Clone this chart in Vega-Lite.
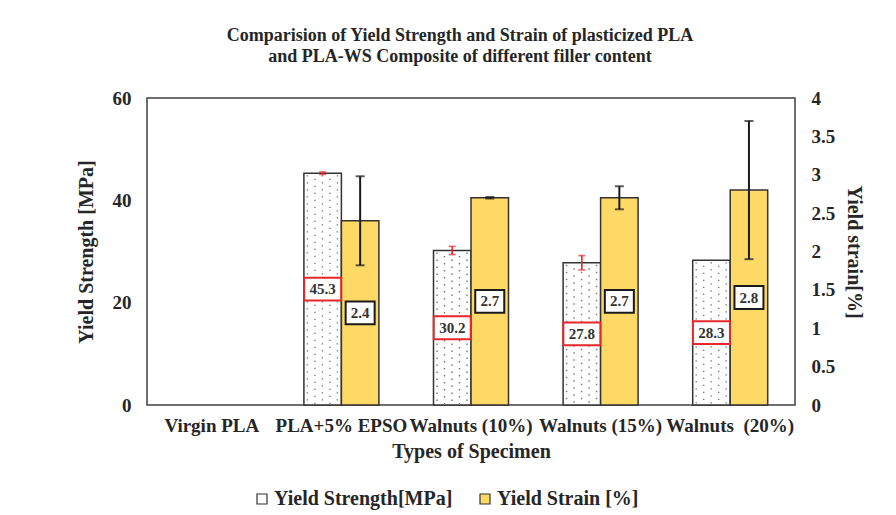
{
  "$schema": "https://vega.github.io/schema/vega-lite/v6.json",
  "autosize": {"type": "none"},
  "width": 648,
  "height": 307,
  "padding": {"left": 147, "top": 98, "right": 101, "bottom": 110},
  "background": "white",
  "title": {
    "text": ["Comparision of Yield Strength and Strain of plasticized PLA", "and PLA-WS Composite of different filler content"],
    "anchor": "middle", "dx": -11, "offset": 23, "fontSize": 18, "fontWeight": "bold",
    "font": "Liberation Serif", "color": "#262626", "lineHeight": 21
  },
  "data": {"values": [
    {"specimen": "Virgin PLA", "series": "Yield Strength[MPa]", "value": null, "err": null},
    {"specimen": "Virgin PLA", "series": "Yield Strain [%]", "value": null, "err": null},
    {"specimen": "PLA+5% EPSO", "series": "Yield Strength[MPa]", "value": 45.3, "err": 0.25},
    {"specimen": "PLA+5% EPSO", "series": "Yield Strain [%]", "value": 2.4, "err": 0.58},
    {"specimen": "Walnuts (10%)", "series": "Yield Strength[MPa]", "value": 30.2, "err": 0.8},
    {"specimen": "Walnuts (10%)", "series": "Yield Strain [%]", "value": 2.7, "err": 0.01},
    {"specimen": "Walnuts (15%)", "series": "Yield Strength[MPa]", "value": 27.8, "err": 1.4},
    {"specimen": "Walnuts (15%)", "series": "Yield Strain [%]", "value": 2.7, "err": 0.15},
    {"specimen": "Walnuts\u00a0 (20%)", "series": "Yield Strength[MPa]", "value": 28.3, "err": null},
    {"specimen": "Walnuts\u00a0 (20%)", "series": "Yield Strain [%]", "value": 2.8, "err": 0.9}
  ]},
  "encoding": {
    "x": {
      "field": "specimen", "type": "nominal", "sort": null,
      "scale": {"domain": ["Virgin PLA", "PLA+5% EPSO", "Walnuts (10%)", "Walnuts (15%)", "Walnuts\u00a0 (20%)"], "paddingInner": 0, "paddingOuter": 0},
      "axis": {"title": "Types of Specimen", "labelAngle": 0, "ticks": false, "domain": false, "labelOverlap": false, "labelPadding": 11, "titlePadding": 6, "labelFontSize": 19, "titleFontSize": 20, "labelFontWeight": "bold", "titleFontWeight": "bold"}
    }
  },
  "layer": [
    {
      "transform": [{"filter": "datum.series === 'Yield Strength[MPa]'"}],
      "mark": {"type": "bar", "stroke": "#333333", "strokeWidth": 1.5},
      "encoding": {
        "xOffset": {"field": "series", "type": "nominal", "scale": {"domain": ["Yield Strength[MPa]", "Yield Strain [%]"], "paddingInner": 0, "paddingOuter": 0.728}},
        "y": {"field": "value", "type": "quantitative", "scale": {"domain": [0, 60]},
          "axis": {"title": "Yield Strength [MPa]", "values": [0, 20, 40, 60], "ticks": false, "domain": false, "grid": false, "labelPadding": 16, "titlePadding": 16, "labelFontSize": 19, "titleFontSize": 20, "labelFontWeight": "bold", "titleFontWeight": "bold"}},
        "color": {"field": "series", "type": "nominal",
          "scale": {"domain": ["Yield Strength[MPa]", "Yield Strain [%]"], "range": ["white", "#FFD966"]},
          "legend": {"orient": "none", "legendX": 105, "legendY": 391, "direction": "horizontal", "title": null, "symbolType": "square", "symbolSize": 100, "symbolStrokeColor": "#333333", "symbolStrokeWidth": 1.2, "labelFontSize": 20, "labelFontWeight": "bold", "labelFont": "Liberation Serif", "labelColor": "#262626", "labelLimit": 400, "columnPadding": 22, "labelOffset": 2}}
      }
    },
    {
      "transform": [{"filter": "datum.series === 'Yield Strength[MPa]'"}],
      "mark": {"type": "rule", "xOffset": -34, "color": "#777777", "strokeWidth": 1.4, "strokeDash": [1.4, 5.6], "strokeDashOffset": -2},
      "encoding": {"y": {"field": "value", "type": "quantitative", "scale": {"domain": [0, 60]}, "axis": null}, "y2": {"datum": 0}}
    },
    {
      "transform": [{"filter": "datum.series === 'Yield Strength[MPa]'"}],
      "mark": {"type": "rule", "xOffset": -26.5, "color": "#777777", "strokeWidth": 1.4, "strokeDash": [1.4, 5.6], "strokeDashOffset": -5.5},
      "encoding": {"y": {"field": "value", "type": "quantitative", "scale": {"domain": [0, 60]}, "axis": null}, "y2": {"datum": 0}}
    },
    {
      "transform": [{"filter": "datum.series === 'Yield Strength[MPa]'"}],
      "mark": {"type": "rule", "xOffset": -19, "color": "#777777", "strokeWidth": 1.4, "strokeDash": [1.4, 5.6], "strokeDashOffset": -2},
      "encoding": {"y": {"field": "value", "type": "quantitative", "scale": {"domain": [0, 60]}, "axis": null}, "y2": {"datum": 0}}
    },
    {
      "transform": [{"filter": "datum.series === 'Yield Strength[MPa]'"}],
      "mark": {"type": "rule", "xOffset": -11.5, "color": "#777777", "strokeWidth": 1.4, "strokeDash": [1.4, 5.6], "strokeDashOffset": -5.5},
      "encoding": {"y": {"field": "value", "type": "quantitative", "scale": {"domain": [0, 60]}, "axis": null}, "y2": {"datum": 0}}
    },
    {
      "transform": [{"filter": "datum.series === 'Yield Strength[MPa]'"}],
      "mark": {"type": "rule", "xOffset": -4, "color": "#777777", "strokeWidth": 1.4, "strokeDash": [1.4, 5.6], "strokeDashOffset": -2},
      "encoding": {"y": {"field": "value", "type": "quantitative", "scale": {"domain": [0, 60]}, "axis": null}, "y2": {"datum": 0}}
    },
    {
      "transform": [{"filter": "datum.series === 'Yield Strength[MPa]' && isValid(datum.err)"}],
      "mark": {"type": "errorbar", "ticks": {"size": 7}, "color": "#E8262B", "thickness": 1.6},
      "encoding": {
        "xOffset": {"field": "series", "type": "nominal", "scale": {"domain": ["Yield Strength[MPa]", "Yield Strain [%]"], "paddingInner": 0, "paddingOuter": 0.728}},
        "y": {"field": "value", "type": "quantitative", "scale": {"domain": [0, 60]}, "axis": null},
        "yError": {"field": "err"}
      }
    },
    {
      "transform": [{"filter": "datum.series === 'Yield Strain [%]'"}],
      "mark": {"type": "bar", "stroke": "#333333", "strokeWidth": 1.5},
      "encoding": {
        "xOffset": {"field": "series", "type": "nominal", "scale": {"domain": ["Yield Strength[MPa]", "Yield Strain [%]"], "paddingInner": 0, "paddingOuter": 0.728}},
        "y": {"field": "value", "type": "quantitative", "scale": {"domain": [0, 4]},
          "axis": {"orient": "right", "title": "Yield strain[%]", "values": [0, 0.5, 1, 1.5, 2, 2.5, 3, 3.5, 4], "format": "~g", "ticks": false, "domain": false, "grid": false, "labelPadding": 16, "titlePadding": 9, "labelFontSize": 19, "titleFontSize": 20, "labelFontWeight": "bold", "titleFontWeight": "bold"}},
        "color": {"field": "series", "type": "nominal", "scale": {"domain": ["Yield Strength[MPa]", "Yield Strain [%]"], "range": ["white", "#FFD966"]}}
      }
    },
    {
      "transform": [{"filter": "datum.series === 'Yield Strain [%]' && isValid(datum.err)"}],
      "mark": {"type": "errorbar", "ticks": {"size": 9}, "color": "#1a1a1a", "thickness": 2},
      "encoding": {
        "xOffset": {"field": "series", "type": "nominal", "scale": {"domain": ["Yield Strength[MPa]", "Yield Strain [%]"], "paddingInner": 0, "paddingOuter": 0.728}},
        "y": {"field": "value", "type": "quantitative", "scale": {"domain": [0, 4]}, "axis": null},
        "yError": {"field": "err"}
      }
    },
    {
      "transform": [{"filter": "datum.series === 'Yield Strength[MPa]' && isValid(datum.value)"}],
      "mark": {"type": "point", "shape": "M-1,-0.62H1V0.62H-1Z", "size": 1369, "filled": true, "fill": "white", "stroke": "#E8262B", "strokeWidth": 2, "opacity": 1},
      "encoding": {
        "xOffset": {"field": "series", "type": "nominal", "scale": {"domain": ["Yield Strength[MPa]", "Yield Strain [%]"], "paddingInner": 0, "paddingOuter": 0.728}},
        "y": {"field": "value", "type": "quantitative", "scale": {"domain": [0, 120]}, "axis": null}
      }
    },
    {
      "transform": [{"filter": "datum.series === 'Yield Strength[MPa]' && isValid(datum.value)"}],
      "mark": {"type": "text", "font": "Liberation Serif", "fontSize": 15, "fontWeight": "bold", "color": "#333333", "baseline": "middle"},
      "encoding": {
        "xOffset": {"field": "series", "type": "nominal", "scale": {"domain": ["Yield Strength[MPa]", "Yield Strain [%]"], "paddingInner": 0, "paddingOuter": 0.728}},
        "y": {"field": "value", "type": "quantitative", "scale": {"domain": [0, 120]}, "axis": null},
        "text": {"field": "value", "type": "quantitative", "format": ".1f"}
      }
    },
    {
      "transform": [{"filter": "datum.series === 'Yield Strain [%]' && isValid(datum.value)"}],
      "mark": {"type": "point", "shape": "M-1,-0.79H1V0.79H-1Z", "size": 841, "filled": true, "fill": "white", "stroke": "#1a1a1a", "strokeWidth": 2, "opacity": 1},
      "encoding": {
        "xOffset": {"field": "series", "type": "nominal", "scale": {"domain": ["Yield Strength[MPa]", "Yield Strain [%]"], "paddingInner": 0, "paddingOuter": 0.728}},
        "y": {"field": "value", "type": "quantitative", "scale": {"domain": [0, 8]}, "axis": null}
      }
    },
    {
      "transform": [{"filter": "datum.series === 'Yield Strain [%]' && isValid(datum.value)"}],
      "mark": {"type": "text", "font": "Liberation Serif", "fontSize": 15, "fontWeight": "bold", "color": "#333333", "baseline": "middle"},
      "encoding": {
        "xOffset": {"field": "series", "type": "nominal", "scale": {"domain": ["Yield Strength[MPa]", "Yield Strain [%]"], "paddingInner": 0, "paddingOuter": 0.728}},
        "y": {"field": "value", "type": "quantitative", "scale": {"domain": [0, 8]}, "axis": null},
        "text": {"field": "value", "type": "quantitative", "format": ".1f"}
      }
    }
  ],
  "resolve": {"scale": {"y": "independent"}, "axis": {"y": "independent"}},
  "config": {
    "font": "Liberation Serif",
    "axis": {"labelFont": "Liberation Serif", "titleFont": "Liberation Serif", "labelColor": "#262626", "titleColor": "#262626", "grid": false},
    "view": {"stroke": "#404040", "strokeWidth": 1.5}
  }
}
